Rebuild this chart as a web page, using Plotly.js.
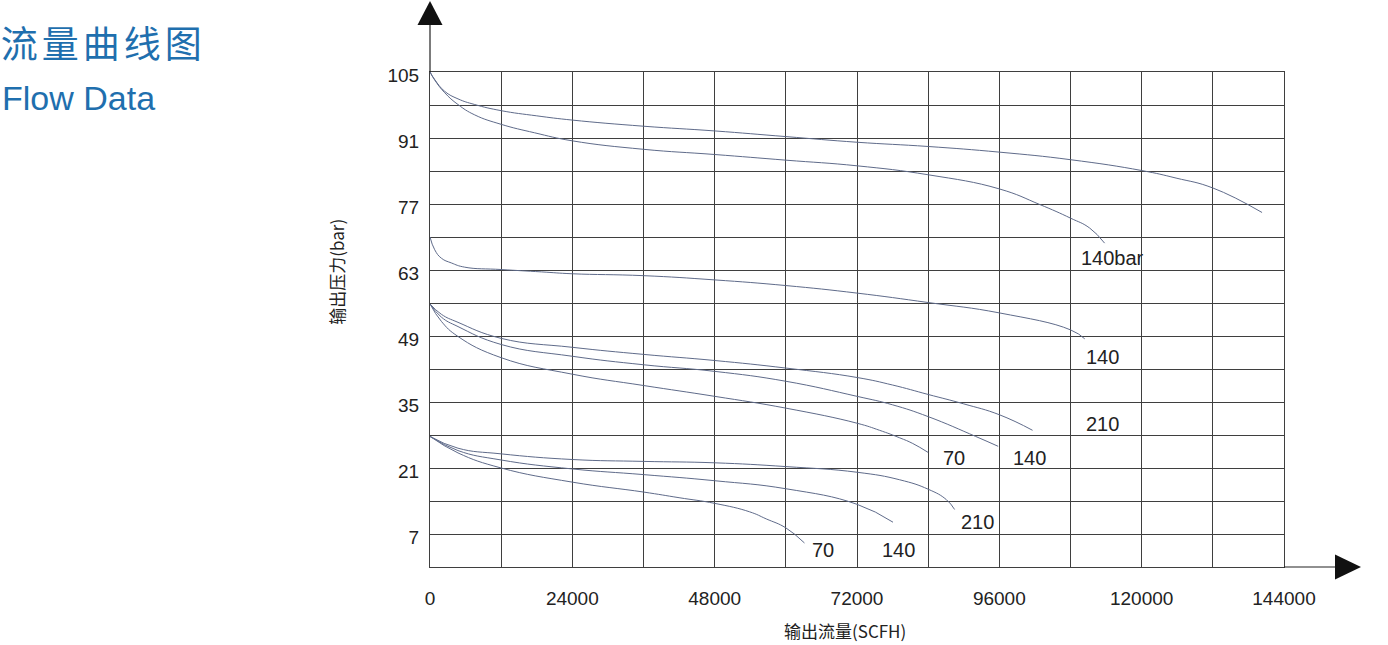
<!DOCTYPE html>
<html>
<head>
<meta charset="utf-8">
<script src="https://cdn.plot.ly/plotly-3.0.1.min.js"></script>
<style>
html,body{margin:0;padding:0;background:#fff;}
#chart{width:1388px;height:645px;}
</style>
</head>
<body>
<div id="chart"></div>
<script>
// ---------- data ----------
const xTickVals = [0, 24000, 48000, 72000, 96000, 120000, 144000];
const xTickText = ["0", "24000", "48000", "72000", "96000", "120000", "144000"];
const yTickVals = [7, 21, 35, 49, 63, 77, 91, 105];
const yTickText = ["7", "21", "35", "49", "63", "77", "91", "105"];

// outlet 105 bar group (inlet 210 bar / 140 bar)
const top210X = [0, 790, 2480, 4720, 7540, 12000, 18000, 24000, 36000, 48000, 60000, 72000, 84000, 96000, 108000, 120000, 125800, 132000, 140300];
const top210Y = [105, 103.4, 100.9, 99.3, 98.1, 96.8, 95.7, 94.8, 93.5, 92.5, 91.3, 90.1, 89.2, 88.0, 86.4, 84.1, 82.5, 80.4, 75.2];
const top140X = [0, 790, 2480, 4720, 7540, 12000, 17650, 24000, 36000, 48000, 60000, 72000, 84000, 96000, 102800, 108000, 111230, 113750];
const top140Y = [105, 103.3, 100.6, 98.1, 95.9, 93.9, 92.1, 90.4, 88.6, 87.5, 86.3, 85.1, 83.2, 80.2, 76.9, 74.0, 71.9, 68.7];

// outlet 70 bar (inlet 140 bar)
const mid70X = [0, 790, 1920, 3600, 5850, 12000, 18780, 24000, 36000, 48000, 60000, 72000, 84000, 96000, 108000, 110400];
const mid70Y = [70, 67.3, 65.5, 64.5, 63.6, 63.1, 62.6, 62.2, 61.8, 60.9, 59.7, 58.1, 56.1, 53.9, 50.3, 48.4];

// outlet 56 bar group (inlet 210 / 140 / 70)
const g56_210X = [0, 1920, 4720, 12000, 24000, 36000, 48000, 60000, 72000, 78000, 84000, 90000, 96000, 101600];
const g56_210Y = [55.8, 53.6, 51.9, 48.5, 46.6, 45.1, 43.8, 42.2, 40.2, 38.6, 36.6, 34.6, 32.3, 29.0];
const g56_140X = [0, 1920, 4720, 12000, 24000, 36000, 48000, 60000, 72000, 78000, 84000, 92000, 95800];
const g56_140Y = [55.8, 53.0, 51.0, 47.2, 44.7, 42.9, 41.5, 39.4, 36.2, 34.4, 31.9, 27.7, 25.6];
const g56_70X = [0, 1920, 4720, 12000, 24000, 36000, 48000, 60000, 72000, 75800, 79200, 81400, 84000];
const g56_70Y = [55.8, 52.1, 48.9, 44.4, 40.9, 38.5, 36.2, 33.7, 30.5, 29.0, 27.4, 26.2, 24.3];

// outlet 28 bar group (inlet 210 / 140 / 70)
const g28_210X = [0, 4720, 12000, 24000, 36000, 48000, 60000, 72000, 79200, 84000, 87060, 88460];
const g28_210Y = [27.7, 25.2, 24.0, 22.8, 22.4, 22.1, 21.3, 20.1, 18.5, 16.5, 14.3, 12.2];
const g28_140X = [0, 4720, 12000, 24000, 36000, 48000, 60000, 72000, 78070];
const g28_140Y = [27.7, 24.7, 22.7, 20.8, 19.6, 18.3, 16.6, 13.3, 9.5];
const g28_70X = [0, 4720, 12000, 24000, 36000, 42000, 48000, 53900, 56700, 60000, 63140];
const g28_70Y = [27.7, 24.2, 21.0, 18.0, 15.9, 14.7, 13.5, 11.7, 10.2, 8.3, 5.1];

// curve labels
const labelText = ["140bar", "输入压力", "210bar", "140", "210", "140", "70", "210", "140", "70"];
const labelX = [115100, 153860, 155370, 113330, 113420, 101110, 88380, 92340, 79020, 66290];
const labelY = [65.6, 79.6, 74.3, 44.6, 30.4, 23.2, 23.2, 9.6, 3.7, 3.7];

const titleCN = "流量曲线图";
const titleEN = "Flow Data";
const xTitle = "输出流量(SCFH)";
const yTitle = "输出压力(bar)";

// ---------- chart ----------
const curveColor = "#5f6b8a";
const series = [
  [top210X, top210Y, "210bar → 105"], [top140X, top140Y, "140bar → 105"],
  [mid70X, mid70Y, "140 → 70"],
  [g56_210X, g56_210Y, "210 → 56"], [g56_140X, g56_140Y, "140 → 56"], [g56_70X, g56_70Y, "70 → 56"],
  [g28_210X, g28_210Y, "210 → 28"], [g28_140X, g28_140Y, "140 → 28"], [g28_70X, g28_70Y, "70 → 28"]
];
const traces = series.map(s => ({
  type: "scatter", mode: "lines", x: s[0], y: s[1], name: s[2],
  line: {color: curveColor, width: 1, shape: "spline", smoothing: 1.3},
  hoverinfo: "skip"
}));

const numFont = "Liberation Sans, Arial, sans-serif";
const cjkFont = "Noto Sans CJK SC, Liberation Sans, sans-serif";
const gridCol = "#3f3f3f";

const annotations = labelText.map((t, i) => ({
  x: labelX[i], y: labelY[i], xref: "x", yref: "y", text: t, showarrow: false,
  xanchor: "center", yanchor: "middle",
  font: {family: /[\u4e00-\u9fff]/.test(t) ? cjkFont : numFont, size: 20, color: "#222"}
}));
annotations.push({
  xref: "paper", yref: "paper", x: -0.5035, y: 0.948, xanchor: "left", yanchor: "middle",
  text: titleEN, showarrow: false, font: {family: numFont, size: 34, color: "#1f6fae"}
});
// y-axis title (placed as in the original, above the plot centre)
annotations.push({
  xref: "paper", yref: "paper", x: (337 - 430) / 854, y: (567.3 - 272) / 495,
  xanchor: "center", yanchor: "middle", textangle: -90,
  text: yTitle, showarrow: false, font: {family: cjkFont, size: 17, color: "#222"}
});
// x-axis title (placed as in the original, slightly left of the plot centre)
annotations.push({
  xref: "paper", yref: "paper", x: (845 - 430) / 854, y: (567.3 - 631) / 495,
  xanchor: "center", yanchor: "middle",
  text: xTitle, showarrow: false, font: {family: cjkFont, size: 17, color: "#222"}
});

const W = 854, H = 495;
const shapes = [
  // y-axis extension + arrow
  {type: "line", xref: "paper", yref: "paper", x0: 0, x1: 0, y0: 1, y1: 1 + 47/H, line: {color: "#222", width: 1.2}},
  {type: "path", xref: "paper", yref: "paper", path: `M ${-12.5/W} ${1+47/H} L ${12.5/W} ${1+47/H} L 0 ${1+71/H} Z`, fillcolor: "#111", line: {width: 0}},
  // x-axis extension + arrow
  {type: "line", xref: "paper", yref: "paper", x0: 1, x1: 1 + 51/W, y0: 0, y1: 0, line: {color: "#222", width: 1.2}},
  {type: "path", xref: "paper", yref: "paper", path: `M ${1+51/W} ${-12.5/H} L ${1+51/W} ${12.5/H} L ${1+77/W} 0 Z`, fillcolor: "#111", line: {width: 0}}
];

const layout = {
  width: 1388, height: 645,
  margin: {l: 430, r: 104, t: 72, b: 78},
  paper_bgcolor: "#fff", plot_bgcolor: "#fff",
  showlegend: false,
  title: {
    text: '<span style="letter-spacing:4px">' + titleCN + '</span>',
    x: 0.0005, xanchor: "left", xref: "container", y: 1 - 45/645, yanchor: "middle", yref: "container",
    font: {family: cjkFont, size: 37, color: "#1f6fae"}
  },
  xaxis: {
    range: [0, 144000], tickvals: xTickVals, ticktext: xTickText,
    ticks: "outside", ticklen: 14, tickcolor: "rgba(0,0,0,0)",
    tickfont: {family: numFont, size: 19, color: "#222"},
    showgrid: true, gridcolor: gridCol, gridwidth: 1,
    minor: {dtick: 12000, tick0: 0, showgrid: true, gridcolor: gridCol, gridwidth: 1},
    showline: true, mirror: true, linecolor: gridCol, linewidth: 1,
    zeroline: false, fixedrange: true
  },
  yaxis: {
    range: [0, 105], tickvals: yTickVals, ticktext: yTickText,
    ticks: "outside", ticklen: 6, tickcolor: "rgba(0,0,0,0)",
    ticklabelshift: 3,
    tickfont: {family: numFont, size: 19, color: "#222"},
    showgrid: true, gridcolor: gridCol, gridwidth: 1,
    minor: {dtick: 7, tick0: 0, showgrid: true, gridcolor: gridCol, gridwidth: 1},
    showline: true, mirror: true, linecolor: gridCol, linewidth: 1,
    zeroline: false, fixedrange: true
  },
  annotations: annotations,
  shapes: shapes
};

Plotly.newPlot("chart", traces, layout, {displayModeBar: false, staticPlot: true});
</script>
</body>
</html>
